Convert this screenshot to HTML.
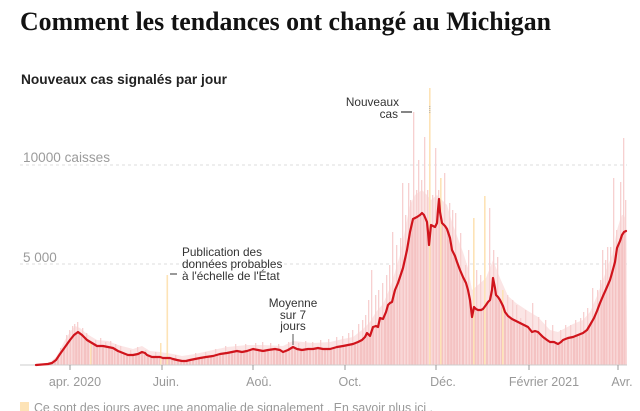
<!DOCTYPE html>
<html>
<head>
<meta charset="utf-8">
<style>
html,body{margin:0;padding:0;background:#fff;}
svg{display:block;}
</style>
</head>
<body>
<svg width="640" height="411" viewBox="0 0 640 411" xmlns="http://www.w3.org/2000/svg">
<defs>
<pattern id="stripes" patternUnits="userSpaceOnUse" width="3" height="10">
<rect x="0" y="0" width="2" height="10" fill="#f4c2c2"/>
<rect x="2" y="0" width="1" height="10" fill="#f9dada"/>
</pattern>
</defs>
<rect width="640" height="411" fill="#fff"/>

<!-- Title -->
<text x="20" y="30" font-family="Liberation Serif, serif" font-weight="bold" font-size="26" fill="#121212" textLength="531" lengthAdjust="spacingAndGlyphs">Comment les tendances ont changé au Michigan</text>
<text x="21" y="84" font-family="Liberation Sans, sans-serif" font-weight="bold" font-size="13.5" fill="#222" textLength="206" lengthAdjust="spacingAndGlyphs">Nouveaux cas signalés par jour</text>

<!-- Gridlines -->
<line x1="20" y1="165" x2="627" y2="165" stroke="#dcdcdc" stroke-width="1" stroke-dasharray="3,3"/>
<line x1="20" y1="264" x2="627" y2="264" stroke="#dcdcdc" stroke-width="1" stroke-dasharray="3,3"/>
<text x="23" y="162" font-family="Liberation Sans, sans-serif" font-size="13.5" fill="#9b9b9b" textLength="87" lengthAdjust="spacingAndGlyphs">10000 caisses</text>
<text x="23" y="262" font-family="Liberation Sans, sans-serif" font-size="13.5" fill="#9b9b9b">5 000</text>

<!-- Light envelope area (sparse bars above average) -->
<polygon fill="#fbe5e5" points="36,365 50,362 56,357 60,350 65,340 70,332 75,326 80,328 87,334 97,340 108,341 118,345 133,349 142,346 150,351 160,352 173,354 182,356 195,354 213,350 227,347 247,345 263,345 283,346 293,341 313,343 330,342 343,339 353,337 362,330 370,322 376,312 383,304 390,288 395,272 400,255 405,230 410,205 415,195 422,190 427,195 431,200 437,195 442,200 447,205 452,222 457,236 463,252 468,268 472,290 478,285 486,278 493,260 500,278 508,296 516,303 528,311 538,317 550,330 558,332 573,324 583,320 590,312 597,296 603,280 607,268 612,255 617,230 620,220 622,215 624,215 626,220 627,365"/>

<!-- Dense area under average -->
<polygon fill="url(#stripes)" points="36,365 48,364 52,363 56,360 60,354 65,347 70,340 74,335 78,332 82,335 87,340 92,343 97,346 103,346 108,347 113,348 118,351 123,353 128,355 133,355 138,354 142,352 145,353 147,355 152,357 156,357 160,357 163,358 167,358 170,358 173,359 177,360 182,361 186,361 190,360 195,359 200,358 206,357 213,356 220,354 227,353 232,352 237,351 242,352 247,351 253,349 258,350 263,351 268,350 275,349 280,350 283,352 288,350 293,347 297,349 302,350 308,349 313,349 318,348 323,349 330,349 337,347 343,346 348,345 353,344 358,342 362,340 365,337 367,333 370,336 373,327 376,326 378,327 380,318 383,319 386,312 388,305 390,303 392,302 395,290 398,283 400,277 403,268 407,250 410,232 413,219 415,218 417,217 420,215 422,213 424,215 427,222 428,232 429,245 430,235 431,225 433,226 435,227 437,223 438,210 439,199 440,212 442,223 445,226 447,229 450,238 452,250 455,256 457,262 460,270 463,277 466,283 468,290 470,300 472,317 474,307 476,309 478,310 481,310 483,309 486,305 488,302 490,300 492,290 493,278 495,288 496,295 498,297 500,300 503,306 505,312 508,316 512,319 516,321 520,323 524,325 528,327 532,332 535,331 538,332 541,335 543,337 547,340 550,342 554,342 558,344 561,342 563,340 568,338 573,337 578,335 583,333 587,330 590,325 594,318 597,311 600,303 603,296 607,287 610,280 612,273 615,262 617,248 620,241 622,235 624,232 626,231 627,365"/>

<!-- Pink spikes -->
<g fill="#f7d0d0">
<rect x="60" y="348" width="1.3" height="17"/><rect x="66" y="335" width="1.3" height="30"/><rect x="69" y="330" width="1.3" height="35"/><rect x="72" y="326" width="1.3" height="39"/><rect x="74" y="324" width="1.3" height="41"/><rect x="77" y="322" width="1.3" height="43"/><rect x="82" y="328" width="1.3" height="37"/><rect x="86" y="333" width="1.3" height="32"/><rect x="95" y="340" width="1.3" height="25"/><rect x="100" y="338" width="1.3" height="27"/><rect x="105" y="342" width="1.3" height="23"/><rect x="110" y="341" width="1.3" height="24"/><rect x="115" y="344" width="1.3" height="21"/><rect x="120" y="346" width="1.3" height="19"/><rect x="130" y="350" width="1.3" height="15"/><rect x="137" y="347" width="1.3" height="18"/><rect x="145" y="350" width="1.3" height="15"/><rect x="155" y="352" width="1.3" height="13"/><rect x="175" y="355" width="1.3" height="10"/><rect x="195" y="353" width="1.3" height="12"/><rect x="205" y="352" width="1.3" height="13"/><rect x="215" y="349" width="1.3" height="16"/><rect x="225" y="346" width="1.3" height="19"/><rect x="235" y="344" width="1.3" height="21"/><rect x="245" y="344" width="1.3" height="21"/><rect x="255" y="343" width="1.3" height="22"/><rect x="262" y="342" width="1.3" height="23"/><rect x="270" y="343" width="1.3" height="22"/><rect x="278" y="344" width="1.3" height="21"/><rect x="288" y="342" width="1.3" height="23"/><rect x="298" y="343" width="1.3" height="22"/><rect x="305" y="341" width="1.3" height="24"/><rect x="312" y="342" width="1.3" height="23"/><rect x="320" y="340" width="1.3" height="25"/><rect x="328" y="339" width="1.3" height="26"/><rect x="336" y="337" width="1.3" height="28"/><rect x="342" y="336" width="1.3" height="29"/><rect x="348" y="333" width="1.3" height="32"/><rect x="352" y="330" width="1.3" height="35"/><rect x="358" y="324" width="1.3" height="41"/><rect x="362" y="320" width="1.3" height="45"/><rect x="365" y="315" width="1.3" height="50"/><rect x="368" y="300" width="1.3" height="65"/><rect x="371" y="270" width="1.3" height="95"/><rect x="375" y="295" width="1.3" height="70"/><rect x="378" y="290" width="1.3" height="75"/><rect x="382" y="283" width="1.3" height="82"/><rect x="386" y="275" width="1.3" height="90"/><rect x="389" y="265" width="1.3" height="100"/><rect x="392" y="232" width="1.3" height="133"/><rect x="396" y="245" width="1.3" height="120"/><rect x="400" y="238" width="1.3" height="127"/><rect x="402" y="183" width="1.3" height="182"/><rect x="405" y="215" width="1.3" height="150"/><rect x="408" y="183" width="1.3" height="182"/><rect x="410" y="200" width="1.3" height="165"/><rect x="413" y="112" width="1.3" height="253"/><rect x="416" y="190" width="1.3" height="175"/><rect x="418" y="160" width="1.3" height="205"/><rect x="421" y="180" width="1.3" height="185"/><rect x="424" y="137" width="1.3" height="228"/><rect x="427" y="190" width="1.3" height="175"/><rect x="432" y="195" width="1.3" height="170"/><rect x="435" y="148" width="1.3" height="217"/><rect x="438" y="190" width="1.3" height="175"/><rect x="444" y="173" width="1.3" height="192"/><rect x="449" y="203" width="1.3" height="162"/><rect x="452" y="210" width="1.3" height="155"/><rect x="455" y="213" width="1.3" height="152"/><rect x="460" y="233" width="1.3" height="132"/><rect x="465" y="265" width="1.3" height="100"/><rect x="468" y="250" width="1.3" height="115"/><rect x="476" y="270" width="1.3" height="95"/><rect x="480" y="275" width="1.3" height="90"/><rect x="489" y="208" width="1.3" height="157"/><rect x="493" y="250" width="1.3" height="115"/><rect x="497" y="257" width="1.3" height="108"/><rect x="507" y="295" width="1.3" height="70"/><rect x="512" y="300" width="1.3" height="65"/><rect x="516" y="305" width="1.3" height="60"/><rect x="520" y="318" width="1.3" height="47"/><rect x="525" y="310" width="1.3" height="55"/><rect x="532" y="303" width="1.3" height="62"/><rect x="538" y="317" width="1.3" height="48"/><rect x="545" y="320" width="1.3" height="45"/><rect x="552" y="325" width="1.3" height="40"/><rect x="560" y="330" width="1.3" height="35"/><rect x="565" y="325" width="1.3" height="40"/><rect x="570" y="325" width="1.3" height="40"/><rect x="575" y="320" width="1.3" height="45"/><rect x="580" y="318" width="1.3" height="47"/><rect x="583" y="312" width="1.3" height="53"/><rect x="587" y="308" width="1.3" height="57"/><rect x="592" y="288" width="1.3" height="77"/><rect x="597" y="290" width="1.3" height="75"/><rect x="600" y="280" width="1.3" height="85"/><rect x="602" y="250" width="1.3" height="115"/><rect x="605" y="260" width="1.3" height="105"/><rect x="607" y="247" width="1.3" height="118"/><rect x="610" y="247" width="1.3" height="118"/><rect x="613" y="178" width="1.3" height="187"/><rect x="616" y="230" width="1.3" height="135"/><rect x="620" y="182" width="1.3" height="183"/><rect x="623" y="138" width="1.3" height="227"/><rect x="625" y="200" width="1.3" height="165"/>
</g>

<!-- Yellow anomaly bars -->
<g fill="#fde3b6">
<rect x="90" y="343" width="1.5" height="22"/>
<rect x="160" y="343" width="1.5" height="22"/>
<rect x="166.5" y="275" width="1.6" height="90"/>
<rect x="429" y="88" width="1.6" height="277"/>
<rect x="440" y="178" width="1.6" height="187"/>
<rect x="473" y="218" width="1.6" height="147"/>
<rect x="484" y="196" width="1.6" height="169"/>
<rect x="502" y="290" width="1.6" height="75"/>
</g>
<line x1="429.8" y1="106" x2="429.8" y2="114" stroke="#aaa" stroke-width="1" stroke-dasharray="1,1"/>

<!-- Axis -->
<line x1="20" y1="365" x2="627" y2="365" stroke="#ccc" stroke-width="1"/>
<g stroke="#999" stroke-width="1">
<line x1="70" y1="365" x2="70" y2="370"/>
<line x1="162" y1="365" x2="162" y2="370"/>
<line x1="253" y1="365" x2="253" y2="370"/>
<line x1="345" y1="365" x2="345" y2="370"/>
<line x1="436" y1="365" x2="436" y2="370"/>
<line x1="529" y1="365" x2="529" y2="370"/>
<line x1="618" y1="365" x2="618" y2="370"/>
</g>
<g font-family="Liberation Sans, sans-serif" font-size="12.5" fill="#999" text-anchor="middle">
<text x="75" y="386">apr. 2020</text>
<text x="166" y="386">Juin.</text>
<text x="259" y="386">Aoû.</text>
<text x="350" y="386">Oct.</text>
<text x="443" y="386">Déc.</text>
<text x="544" y="386">Février 2021</text>
<text x="622" y="386">Avr.</text>
</g>

<!-- 7-day average line -->
<polyline fill="none" stroke="#d0141c" stroke-width="2.2" stroke-linejoin="round" stroke-linecap="round" points="36,365 48,364 52,363 56,360 60,354 65,347 70,340 74,335 78,332 82,335 87,340 92,343 97,346 103,346 108,347 113,348 118,351 123,353 128,355 133,355 138,354 142,352 145,353 147,355 152,357 156,357 160,357 163,358 167,358 170,358 173,359 177,360 182,361 186,361 190,360 195,359 200,358 206,357 213,356 220,354 227,353 232,352 237,351 242,352 247,351 253,349 258,350 263,351 268,350 275,349 280,350 283,352 288,350 293,347 297,349 302,350 308,349 313,349 318,348 323,349 330,349 337,347 343,346 348,345 353,344 358,342 362,340 365,337 367,333 370,336 373,327 376,326 378,327 380,318 383,319 386,312 388,305 390,303 392,302 395,290 398,283 400,277 403,268 407,250 410,232 413,219 415,218 417,217 420,215 422,213 424,215 427,222 428,232 429,245 430,235 431,225 433,226 435,227 437,223 438,210 439,199 440,212 442,223 445,226 447,229 450,238 452,250 455,256 457,262 460,270 463,277 466,283 468,290 470,300 472,317 474,307 476,309 478,310 481,310 483,309 486,305 488,302 490,300 492,290 493,278 495,288 496,295 498,297 500,300 503,306 505,312 508,316 512,319 516,321 520,323 524,325 528,327 532,332 535,331 538,332 541,335 543,337 547,340 550,342 554,342 558,344 561,342 563,340 568,338 573,337 578,335 583,333 587,330 590,325 594,318 597,311 600,303 603,296 607,287 610,280 612,273 615,262 617,248 620,241 622,235 624,232 626,231"/>

<!-- Annotations -->
<g font-family="Liberation Sans, sans-serif" font-size="11.8" fill="#333">
<text x="182" y="256">Publication des</text>
<text x="182" y="268">données probables</text>
<text x="182" y="280">à l'échelle de l'État</text>
<text x="293" y="307" text-anchor="middle">Moyenne</text>
<text x="293" y="319" text-anchor="middle">sur 7</text>
<text x="293" y="330" text-anchor="middle">jours</text>
<text x="399" y="106" text-anchor="end">Nouveaux</text>
<text x="398" y="118" text-anchor="end">cas</text>
</g>
<line x1="170" y1="274" x2="177" y2="274" stroke="#333" stroke-width="1"/>
<line x1="293" y1="334" x2="293" y2="345" stroke="#555" stroke-width="1"/>
<line x1="401" y1="112" x2="412" y2="112" stroke="#333" stroke-width="1.2"/>

<!-- Footer -->
<rect x="20" y="402" width="9" height="9" fill="#fde3b6"/>
<text x="34" y="412" font-family="Liberation Sans, sans-serif" font-size="12.5" fill="#999" textLength="399" lengthAdjust="spacingAndGlyphs">Ce sont des jours avec une anomalie de signalement . En savoir plus ici .</text>
</svg>
</body>
</html>
